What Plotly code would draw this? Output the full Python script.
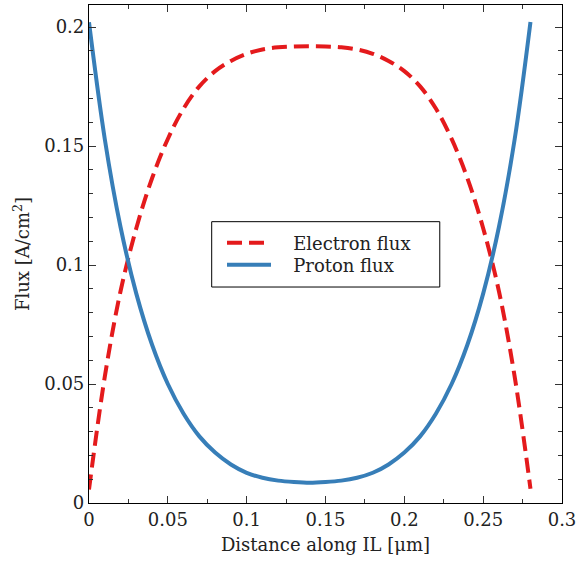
import plotly.graph_objects as go

# Data
x_um = [0.00, 0.01, 0.02, 0.03, 0.04, 0.05, 0.06, 0.07, 0.08, 0.09, 0.10, 0.11, 0.12, 0.13, 0.14,
        0.15, 0.16, 0.17, 0.18, 0.19, 0.20, 0.21, 0.22, 0.23, 0.24, 0.25, 0.26, 0.27, 0.28]
electron_flux = [0.0057, 0.0530, 0.0890, 0.1155, 0.1365, 0.1530, 0.1658, 0.1751, 0.1815, 0.1858, 0.1888,
                 0.1906, 0.1915, 0.1919, 0.1920, 0.1919, 0.1915, 0.1906, 0.1888, 0.1858, 0.1815, 0.1751,
                 0.1658, 0.1530, 0.1365, 0.1155, 0.0890, 0.0530, 0.0060]
proton_flux = [0.2020, 0.1530, 0.1160, 0.0880, 0.0665, 0.0500, 0.0375, 0.0280, 0.0212, 0.0162, 0.0127,
               0.0106, 0.0094, 0.0088, 0.0085, 0.0088, 0.0094, 0.0106, 0.0127, 0.0162, 0.0212, 0.0280,
               0.0375, 0.0500, 0.0665, 0.0880, 0.1160, 0.1530, 0.2022]

x_ticks = [0, 0.05, 0.1, 0.15, 0.2, 0.25, 0.3]
x_tick_labels = ["0", "0.05", "0.1", "0.15", "0.2", "0.25", "0.3"]
y_ticks = [0, 0.05, 0.1, 0.15, 0.2]
y_tick_labels = ["0", "0.05", "0.1", "0.15", "0.2"]

RED = "#e41a1c"
BLUE = "#377eb8"
FONT = "DejaVu Serif"
FS = 18
PAD = "\u00a0\u00a0\u00a0"

fig = go.Figure()
fig.add_trace(go.Scatter(x=x_um, y=electron_flux, mode="lines", name=PAD + "Electron flux", legend="legend",
                         line=dict(color=RED, width=4, dash="15px,7px", shape="spline", smoothing=1.0)))
fig.add_trace(go.Scatter(x=x_um, y=proton_flux, mode="lines", name=PAD + "Proton flux", legend="legend2",
                         line=dict(color=BLUE, width=4, shape="spline", smoothing=1.0)))

axis_common = dict(
    showline=True, linecolor="black", linewidth=1.2, mirror="allticks",
    ticks="inside", ticklen=7, tickwidth=1, tickcolor="#333333",
    showgrid=False, zeroline=False, automargin=False,
    tickfont=dict(family=FONT, size=FS, color="#222222"),
)

fig.update_xaxes(
    **axis_common, range=[0, 0.3], tickvals=x_ticks, ticktext=x_tick_labels,
    minor=dict(ticks="inside", ticklen=4, dtick=0.025, tick0=0, tickcolor="#333333", showgrid=False),
    title=dict(text="Distance along IL [μm]", font=dict(family=FONT, size=FS, color="#222222"), standoff=9),
)
fig.update_yaxes(
    **axis_common, range=[0, 0.2093], tickvals=y_ticks, ticktext=y_tick_labels,
    minor=dict(ticks="inside", ticklen=4, dtick=0.01, tick0=0, tickcolor="#333333", showgrid=False),
    title=dict(text="Flux [A/cm<sup>2</sup>]", font=dict(family=FONT, size=FS, color="#222222"), standoff=9),
)

# legend frame
fig.add_shape(type="rect", xref="paper", yref="paper",
              x0=0.2594, x1=0.7416, y0=0.4337, y1=0.5649,
              line=dict(color="black", width=1), fillcolor="white", layer="below")

leg_common = dict(x=0.2812, xanchor="left", yanchor="middle",
                  bgcolor="rgba(0,0,0,0)", borderwidth=0, itemwidth=44,
                  font=dict(family=FONT, size=FS, color="#222222"))

fig.update_layout(
    width=577, height=563,
    margin=dict(l=89, r=15, t=5, b=60),
    paper_bgcolor="white", plot_bgcolor="white",
    showlegend=True,
    legend=dict(**leg_common, y=0.5221),
    legend2=dict(**leg_common, y=0.4779),
)

fig.write_html("out.html")
